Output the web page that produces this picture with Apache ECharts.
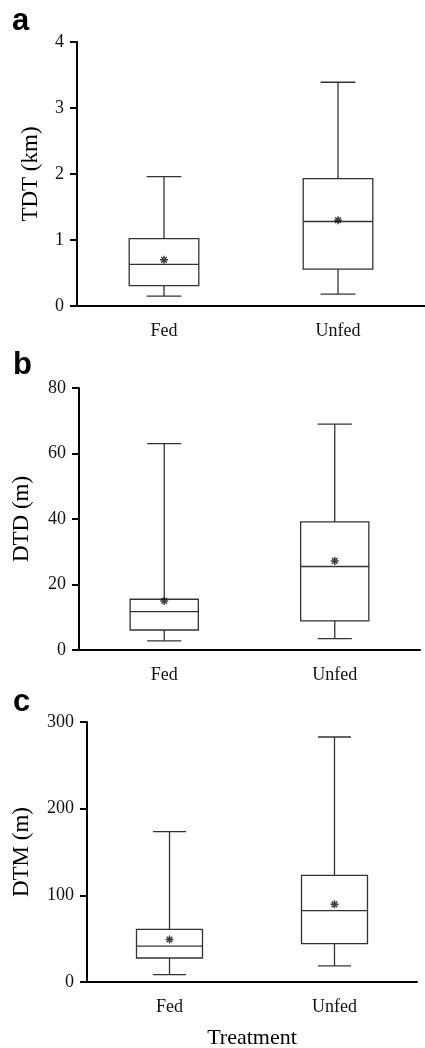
<!DOCTYPE html>
<html>
<head>
<meta charset="utf-8">
<script src="https://cdn.jsdelivr.net/npm/echarts@6/dist/echarts.min.js"></script>
<style>
  html, body { margin: 0; padding: 0; background: #fff; }
  #chart { width: 425px; height: 1048px; }
</style>
</head>
<body>
<div id="chart"></div>
<script>
// categories and box stats [min, Q1, median, Q3, max]
var categories = ['Fed', 'Unfed'];
var tdtBox = [[0.15, 0.31, 0.63, 1.02, 1.96], [0.18, 0.56, 1.28, 1.93, 3.39]];
var tdtMean = [0.70, 1.30];
var dtdBox = [[2.8, 6.1, 11.7, 15.5, 63], [3.5, 8.9, 25.5, 39.1, 69]];
var dtdMean = [15, 27.2];
var dtmBox = [[8.5, 27.7, 41.5, 60.8, 173.5], [18.5, 44.3, 82.3, 123, 282.7]];
var dtmMean = [49, 89.6];

var serif = 'Liberation Serif';
var ink = '#000';
var boxInk = '#333';

// custom box: box 40% of band, caps 20%
function renderBox(params, api) {
    var c = api.value(0);
    var pMin = api.coord([c, api.value(1)]);
    var pQ1 = api.coord([c, api.value(2)]);
    var pMed = api.coord([c, api.value(3)]);
    var pQ3 = api.coord([c, api.value(4)]);
    var pMax = api.coord([c, api.value(5)]);
    var band = api.size([1, 0])[0];
    var hb = band * 0.2, hc = band * 0.1;
    var x = pMed[0];
    var st = { stroke: boxInk, lineWidth: 1.3, fill: null };
    function ln(x1, y1, x2, y2) {
        return { type: 'line', shape: { x1: x1, y1: y1, x2: x2, y2: y2 }, style: st };
    }
    return {
        type: 'group',
        children: [
            { type: 'rect', shape: { x: x - hb, y: pQ3[1], width: hb * 2, height: pQ1[1] - pQ3[1] }, style: { stroke: boxInk, lineWidth: 1.3, fill: '#fff' } },
            ln(x - hb, pMed[1], x + hb, pMed[1]),
            ln(x, pQ3[1], x, pMax[1]),
            ln(x, pQ1[1], x, pMin[1]),
            ln(x - hc, pMax[1], x + hc, pMax[1]),
            ln(x - hc, pMin[1], x + hc, pMin[1])
        ]
    };
}

function boxData(stats) {
    return stats.map(function (s, i) { return [i].concat(s); });
}

var star = 'path://M5 0L5 10M0 5L10 5M1.5 1.5L8.5 8.5M8.5 1.5L1.5 8.5';

var panels = [
    { name: 'TDT (km)', box: tdtBox, mean: tdtMean, max: 4, interval: 1, grid: { left: 77, top: 42, width: 348, height: 264 }, gap: 35 },
    { name: 'DTD (m)', box: dtdBox, mean: dtdMean, max: 80, interval: 20, grid: { left: 79, top: 388, width: 341, height: 262 }, gap: 46 },
    { name: 'DTM (m)', box: dtmBox, mean: dtmMean, max: 300, interval: 100, grid: { left: 87, top: 722, width: 330, height: 260 }, gap: 54 }
];

var grids = [], xAxes = [], yAxes = [], series = [];
panels.forEach(function (p, i) {
    grids.push(Object.assign({ containLabel: false, outerBoundsMode: 'none' }, p.grid));
    xAxes.push({
        type: 'category',
        gridIndex: i,
        data: categories,
        name: i === 2 ? 'Treatment' : '',
        nameLocation: 'middle',
        nameGap: 45,
        nameTextStyle: { fontFamily: serif, fontSize: 22, color: ink },
        axisLine: { lineStyle: { color: ink, width: 2 } },
        axisTick: { alignWithLabel: true, length: 7, lineStyle: { color: ink, width: 2 } },
        axisLabel: { fontFamily: serif, fontSize: 18, color: '#111', margin: 16 },
        splitLine: { show: false }
    });
    yAxes.push({
        type: 'value',
        gridIndex: i,
        min: 0,
        max: p.max,
        interval: p.interval,
        name: p.name,
        nameLocation: 'middle',
        nameGap: p.gap,
        nameTextStyle: { fontFamily: serif, fontSize: 23, color: ink },
        axisLine: { show: true, lineStyle: { color: ink, width: 2 } },
        axisTick: { show: true, length: 7, lineStyle: { color: ink, width: 2 } },
        axisLabel: { fontFamily: serif, fontSize: 18, color: '#111', margin: 13 },
        splitLine: { show: false }
    });
    series.push({
        type: 'custom',
        xAxisIndex: i,
        yAxisIndex: i,
        renderItem: renderBox,
        encode: { x: 0, y: [1, 2, 3, 4, 5] },
        data: boxData(p.box),
        z: 2
    });
    series.push({
        type: 'scatter',
        xAxisIndex: i,
        yAxisIndex: i,
        symbol: star,
        symbolSize: 8,
        itemStyle: { color: 'none', borderColor: '#111', borderWidth: 1.5 },
        data: p.mean.map(function (v, k) { return [k, v]; }),
        z: 3
    });
});

var letterStyle = { fontFamily: 'Liberation Sans', fontWeight: 'bold', fontSize: 31, fill: '#000' };
var myChart = echarts.init(document.getElementById('chart'));
myChart.setOption({
    animation: false,
    grid: grids,
    xAxis: xAxes,
    yAxis: yAxes,
    series: series,
    graphic: [
        { type: 'text', left: 12, top: 6, style: Object.assign({ text: 'a' }, letterStyle) },
        { type: 'text', left: 13, top: 350, style: Object.assign({ text: 'b' }, letterStyle) },
        { type: 'text', left: 13, top: 687, style: Object.assign({ text: 'c' }, letterStyle) }
    ]
});
</script>
</body>
</html>
